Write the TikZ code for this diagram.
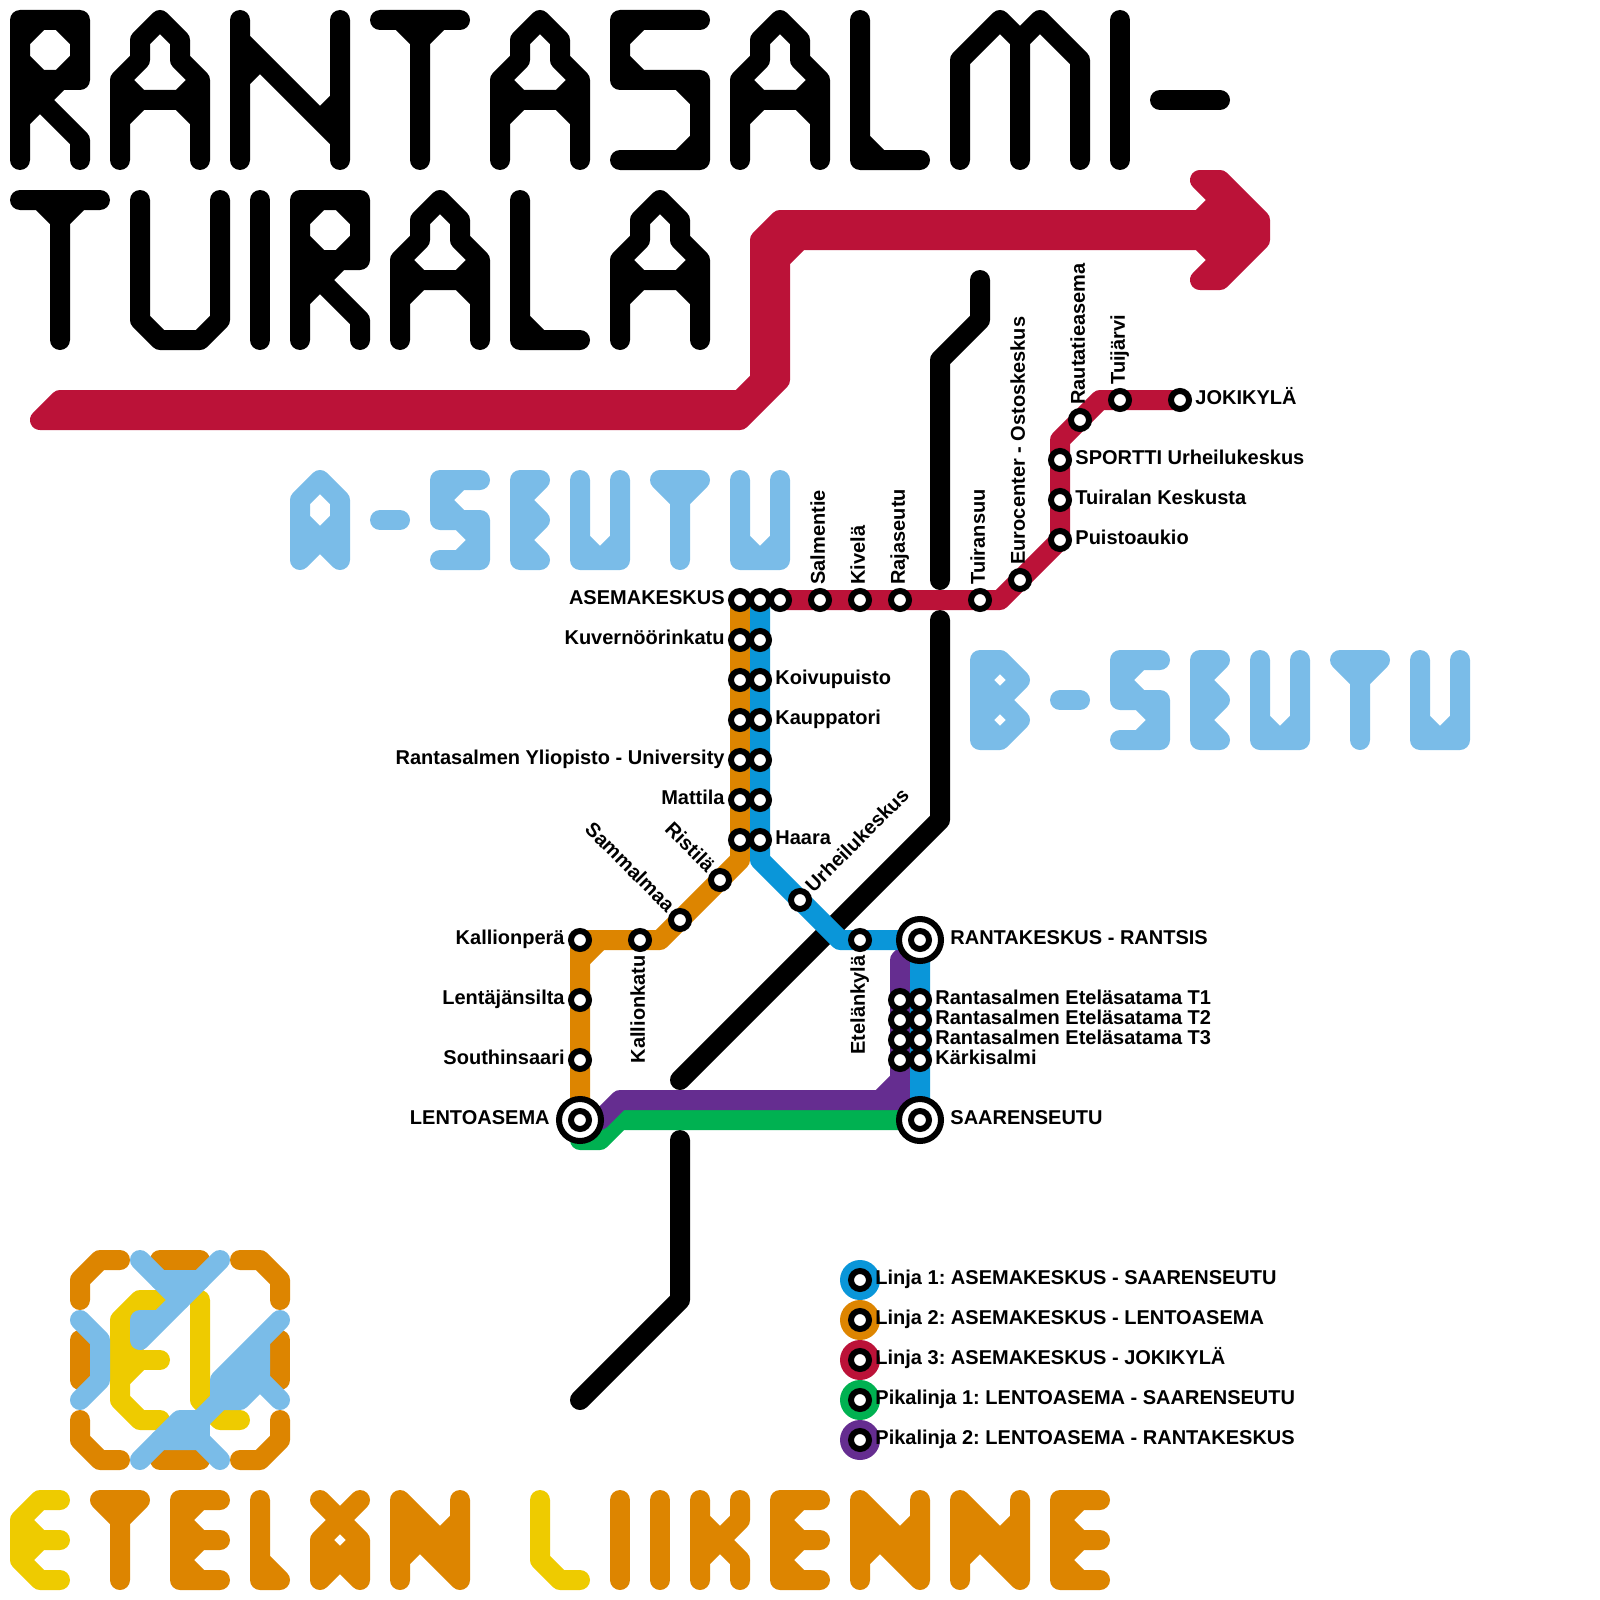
\documentclass[tikz,border=0pt]{standalone}
\usepackage{fontspec}
\setmainfont{Liberation Sans}
\usetikzlibrary{positioning,backgrounds}
\definecolor{punainen}{HTML}{BB1238}
\definecolor{oranssi}{HTML}{DD8500}
\definecolor{sininen}{HTML}{0A96D9}
\definecolor{vihrea}{HTML}{00B151}
\definecolor{violetti}{HTML}{652D90}
\definecolor{vaaleansin}{HTML}{7ABCE8}
\definecolor{keltainen}{HTML}{EECB00}
\tikzset{
  kirjainviiva/.style={
    draw=#1, line width=10pt, line cap=round, line join=round,
    x=10pt, y=-10pt
  },
  linja/.style={
    draw=#1, line width=10pt, line cap=round, line join=round
  },
  linja/.default=black,
  asema/.style={
    circle, draw=black, fill=white, line width=3pt,
    minimum size=9pt, inner sep=0pt
  },
  paateasema/.style={
    circle, draw=black, fill=white, line width=3pt,
    minimum size=21pt, inner sep=0pt
  },
  merkki/.style={
    circle, fill=#1, minimum size=20pt, inner sep=0pt
  },
  nimi/.style={
    font=\fontsize{10}{12}\selectfont\bfseries\frenchspacing, inner sep=0pt,
    text height=7.3pt, text depth=2.5pt
  },
}
% isot kirjaimet, 7 ruutua korkeat
\newcommand{\isoR}{(0,7)--(0,0)--(3,0)--(3,3)--(0,3) (0,1)--(1,0) (2,0)--(3,1) (3,2)--(2,3) (1,3)--(0,2) (0,5)--(2,3) (1,4)--(3,6)--(3,7) (0,3)--(1,4)}
\newcommand{\isoA}{(0,7)--(0,3)--(1,2)--(1,1)--(2,0)--(3,1)--(3,2)--(4,3)--(4,7) (0,3)--(1,4)--(3,4)--(4,3) (0,5)--(1,4) (3,4)--(4,5)}
\newcommand{\isoN}{(0,0)--(0,7) (5,0)--(5,7) (0,1)--(5,6) (0,3)--(1,2) (5,4)--(4,5)}
\newcommand{\isoT}{(0,0)--(4,0) (2,0)--(2,7) (1,0)--(2,1)--(3,0)}
\newcommand{\isoS}{(4,0)--(0,0)--(0,3)--(4,3)--(4,7)--(0,7) (0,1)--(1,0) (0,2)--(1,3) (3,3)--(4,4) (4,6)--(3,7)}
\newcommand{\isoL}{(0,0)--(0,7)--(3,7) (0,6)--(1,7)}
\newcommand{\isoM}{(0,7)--(0,2)--(2,0)--(3,1)--(4,0)--(6,2)--(6,7) (3,1)--(3,7)}
\newcommand{\isoI}{(0,0)--(0,7)}
\newcommand{\isoViiva}{(0,4)--(3,4)}
\newcommand{\isoU}{(0,0)--(0,6)--(1,7)--(3,7)--(4,6)--(4,0)}
% pienet kirjaimet, 4 ruutua korkeat
\newcommand{\pieniA}{(0,4)--(0,1)--(1,0)--(2,1)--(2,4) (0,2)--(1,3)--(2,2) (0,4)--(1,3)--(2,4)}
\newcommand{\pieniB}{(0,0)--(0,4)--(1,4)--(2,3)--(1,2)--(2,1)--(1,0)--(0,0) (0,2)--(1,2) (1,0)--(0,1)--(1,2)--(0,3)--(1,4)}
\newcommand{\pieniViiva}{(0,2)--(1,2)}
\newcommand{\pieniS}{(2,0)--(0,0)--(0,2)--(2,2)--(2,4)--(0,4) (1,0)--(0,1)--(1,2)--(2,3)--(1,4)}
\newcommand{\pieniE}{(1,0)--(0,0)--(0,4)--(1,4) (0,2)--(1,2) (1,0)--(0,1)--(1,2)--(0,3)--(1,4)}
\newcommand{\pieniU}{(0,0)--(0,4)--(2,4)--(2,0) (0,3)--(1,4)--(2,3)}
\newcommand{\pieniT}{(0,0)--(2,0) (1,0)--(1,4) (0,0)--(1,1)--(2,0)}
\newcommand{\alaEk}{(2,0)--(1,0)--(0,1)--(0,3)--(1,4)--(2,4) (0,2)--(2,2) (0,1)--(1,2)--(0,3)}
\newcommand{\alaE}{(2,0)--(0,0)--(0,4)--(2,4) (0,2)--(2,2) (1,0)--(0,1)--(1,2)--(0,3)--(1,4)}
\newcommand{\alaL}{(0,0)--(0,4)--(1,4) (0,3)--(1,4)}
\newcommand{\alaLk}{(0,0)--(0,3)--(1,4)--(2,4)}
\newcommand{\alaAe}{(0,0)--(1,1)--(2,0) (1,1)--(0,2)--(0,4) (1,1)--(2,2)--(2,4) (0,2)--(1,3)--(2,2) (0,4)--(1,3)--(2,4)}
\newcommand{\alaN}{(0,0)--(0,4) (3,0)--(3,4) (0,0)--(3,3) (0,1)--(3,4) (3,1)--(2,2) (0,3)--(1,2)}
\newcommand{\alaI}{(0,0)--(0,4)}
\newcommand{\alaK}{(0,0)--(0,4) (2,0)--(2,1)--(1,2)--(2,3)--(2,4) (0,1)--(1,2)--(0,3)}
\newcommand{\kirjain}[4]{\draw[shift={(#1,#2)},kirjainviiva=#3] #4;}

\begin{document}
\begin{tikzpicture}[x=0.5pt,y=-0.5pt]
  \useasboundingbox (0,0) rectangle (1600,1600);

  % otsikko
  \kirjain{20}{20}{black}{\isoR}
  \kirjain{120}{20}{black}{\isoA}
  \kirjain{240}{20}{black}{\isoN}
  \kirjain{380}{20}{black}{\isoT}
  \kirjain{500}{20}{black}{\isoA}
  \kirjain{620}{20}{black}{\isoS}
  \kirjain{740}{20}{black}{\isoA}
  \kirjain{860}{20}{black}{\isoL}
  \kirjain{960}{20}{black}{\isoM}
  \kirjain{1120}{20}{black}{\isoI}
  \kirjain{1160}{20}{black}{\isoViiva}
  \kirjain{20}{200}{black}{\isoT}
  \kirjain{140}{200}{black}{\isoU}
  \kirjain{260}{200}{black}{\isoI}
  \kirjain{300}{200}{black}{\isoR}
  \kirjain{400}{200}{black}{\isoA}
  \kirjain{520}{200}{black}{\isoL}
  \kirjain{620}{200}{black}{\isoA}

  % punainen nuoli
  \draw[draw=punainen, fill=punainen, line width=10pt, line join=round]
    (40,420) -- (60,400) -- (740,400) -- (760,380) -- (760,240) -- (780,220)
    -- (1200,220) -- (1220,200) -- (1200,180) -- (1220,180) -- (1260,220)
    -- (1260,240) -- (1220,280) -- (1200,280) -- (1220,260) -- (1200,240)
    -- (800,240) -- (780,260) -- (780,380) -- (740,420) -- cycle;

  % A-SEUTU
  \kirjain{300}{480}{vaaleansin}{\pieniA}
  \kirjain{380}{480}{vaaleansin}{\pieniViiva}
  \kirjain{440}{480}{vaaleansin}{\pieniS}
  \kirjain{520}{480}{vaaleansin}{\pieniE}
  \kirjain{580}{480}{vaaleansin}{\pieniU}
  \kirjain{660}{480}{vaaleansin}{\pieniT}
  \kirjain{740}{480}{vaaleansin}{\pieniU}

  % B-SEUTU
  \kirjain{980}{660}{vaaleansin}{\pieniB}
  \kirjain{1060}{660}{vaaleansin}{\pieniViiva}
  \kirjain{1120}{660}{vaaleansin}{\pieniS}
  \kirjain{1200}{660}{vaaleansin}{\pieniE}
  \kirjain{1260}{660}{vaaleansin}{\pieniU}
  \kirjain{1340}{660}{vaaleansin}{\pieniT}
  \kirjain{1420}{660}{vaaleansin}{\pieniU}

  % ETELAN LIIKENNE
  \kirjain{20}{1500}{keltainen}{\alaEk}
  \kirjain{100}{1500}{oranssi}{\pieniT}
  \kirjain{180}{1500}{oranssi}{\alaE}
  \kirjain{260}{1500}{oranssi}{\alaL}
  \kirjain{320}{1500}{oranssi}{\alaAe}
  \kirjain{400}{1500}{oranssi}{\alaN}
  \kirjain{540}{1500}{keltainen}{\alaLk}
  \kirjain{620}{1500}{oranssi}{\alaI}
  \kirjain{660}{1500}{oranssi}{\alaI}
  \kirjain{700}{1500}{oranssi}{\alaK}
  \kirjain{780}{1500}{oranssi}{\alaE}
  \kirjain{860}{1500}{oranssi}{\alaN}
  \kirjain{960}{1500}{oranssi}{\alaN}
  \kirjain{1060}{1500}{oranssi}{\alaE}

  % logo
  \draw[linja=oranssi] (80,1300) -- (80,1280) -- (100,1260) -- (120,1260);
  \draw[linja=oranssi] (280,1300) -- (280,1280) -- (260,1260) -- (240,1260);
  \draw[linja=oranssi] (80,1420) -- (80,1440) -- (100,1460) -- (120,1460);
  \draw[linja=oranssi] (280,1420) -- (280,1440) -- (260,1460) -- (240,1460);
  \draw[linja=oranssi] (160,1260) -- (200,1260);
  \draw[linja=oranssi] (160,1460) -- (200,1460);
  \draw[linja=oranssi] (80,1340) -- (80,1380);
  \draw[linja=oranssi] (280,1340) -- (280,1380);
  \draw[linja=keltainen] (160,1300) -- (140,1300) -- (120,1320) -- (120,1400) -- (140,1420) -- (160,1420);
  \draw[linja=keltainen] (120,1360) -- (160,1360);
  \draw[linja=keltainen] (120,1340) -- (140,1360) -- (120,1380);
  \draw[linja=keltainen] (200,1300) -- (200,1400) -- (220,1420) -- (240,1420);
  \draw[linja=vaaleansin] (80,1320) -- (100,1340) -- (100,1380) -- (80,1400);
  \draw[linja=vaaleansin] (140,1260) -- (160,1280) -- (200,1280) -- (220,1260);
  \draw[linja=vaaleansin] (160,1280) -- (180,1300);
  \draw[linja=vaaleansin] (200,1280) -- (140,1340) -- (140,1320) -- (160,1320);
  \draw[linja=vaaleansin, fill=vaaleansin] (280,1320) -- (260,1340) -- (260,1380)
    -- (240,1400) -- (220,1400) -- (220,1380) -- cycle;
  \draw[linja=vaaleansin] (260,1380) -- (280,1400);
  \draw[linja=vaaleansin] (220,1400) -- (200,1420) -- (180,1420) -- (140,1460);
  \draw[linja=vaaleansin] (160,1440) -- (200,1440) -- (220,1460);
  \draw[linja=vaaleansin] (200,1420) -- (200,1440);

  % asemat
  \node[asema] (ak2) at (740,600) {};
  \node[asema] (ak1) at (760,600) {};
  \node[asema] (ak3) at (780,600) {};
  \node[asema] (o640) at (740,640) {};
  \node[asema] (o680) at (740,680) {};
  \node[asema] (o720) at (740,720) {};
  \node[asema] (o760) at (740,760) {};
  \node[asema] (o800) at (740,800) {};
  \node[asema] (o840) at (740,840) {};
  \node[asema] (b640) at (760,640) {};
  \node[asema] (b680) at (760,680) {};
  \node[asema] (b720) at (760,720) {};
  \node[asema] (b760) at (760,760) {};
  \node[asema] (b800) at (760,800) {};
  \node[asema] (b840) at (760,840) {};
  \node[asema] (rist) at (720,880) {};
  \node[asema] (samm) at (680,920) {};
  \node[asema] (kkat) at (640,940) {};
  \node[asema] (kper) at (580,940) {};
  \node[asema] (lsil) at (580,1000) {};
  \node[asema] (sins) at (580,1060) {};
  \node[asema] (urhe) at (800,900) {};
  \node[asema] (etky) at (860,940) {};
  \node[asema] (v1) at (900,1000) {};
  \node[asema] (v2) at (900,1020) {};
  \node[asema] (v3) at (900,1040) {};
  \node[asema] (v4) at (900,1060) {};
  \node[asema] (t1) at (920,1000) {};
  \node[asema] (t2) at (920,1020) {};
  \node[asema] (t3) at (920,1040) {};
  \node[asema] (t4) at (920,1060) {};
  \node[asema] (salm) at (820,600) {};
  \node[asema] (kive) at (860,600) {};
  \node[asema] (raja) at (900,600) {};
  \node[asema] (tsuu) at (980,600) {};
  \node[asema] (euro) at (1020,580) {};
  \node[asema] (puis) at (1060,540) {};
  \node[asema] (tkes) at (1060,500) {};
  \node[asema] (spor) at (1060,460) {};
  \node[asema] (raut) at (1080,420) {};
  \node[asema] (tjar) at (1120,400) {};
  \node[asema] (joki) at (1180,400) {};
  \node[paateasema] (lento) at (580,1120) {};
  \node[asema] (lento2) at (580,1120) {};
  \node[paateasema] (ranta) at (920,940) {};
  \node[asema] (ranta2) at (920,940) {};
  \node[paateasema] (saari) at (920,1120) {};
  \node[asema] (saari2) at (920,1120) {};

  \coordinate (sk1) at (760,860);
  \coordinate (sk2) at (840,940);
  \coordinate (ok1) at (740,860);
  \coordinate (ok2) at (660,940);
  \coordinate (ok3) at (580,960);
  \coordinate (ok4) at (600,940);
  \coordinate (pk1) at (1000,600);
  \coordinate (pk2) at (1060,440);
  \coordinate (pk3) at (1100,400);
  \coordinate (vk1) at (620,1120);
  \coordinate (vk2) at (600,1140);
  \coordinate (vk3) at (580,1140);
  \coordinate (lk1) at (600,1120);
  \coordinate (lk2) at (620,1100);
  \coordinate (lk3) at (900,1100);
  \coordinate (lk4) at (880,1100);
  \coordinate (lk5) at (900,1080);
  \coordinate (lk6) at (900,960);

  \begin{scope}[on background layer]
    % mustat tiet
    \draw[linja] (980,280) -- (980,320) -- (940,360) -- (940,580);
    \draw[linja] (940,620) -- (940,820) -- (680,1080);
    \draw[linja] (680,1140) -- (680,1300) -- (580,1400);
    % linjat
    \draw[linja=vihrea] (saari.center) -- (vk1) -- (vk2) -- (vk3) -- (lento.center);
    \draw[linja=violetti] (lento.center) -- (lk1) -- (lk2) -- (lk3) -- (lk6) -- (ranta.center);
    \draw[linja=violetti] (lk4) -- (lk5);
    \draw[linja=punainen] (ak3.center) -- (pk1) -- (puis.center) -- (pk2) -- (pk3) -- (joki.center);
    \draw[linja=oranssi] (ak2.center) -- (ok1) -- (ok2) -- (kper.center) -- (lento.center);
    \draw[linja=oranssi] (ok3) -- (ok4);
    \draw[linja=sininen] (ak1.center) -- (sk1) -- (sk2) -- (ranta.center) -- (saari.center);
  \end{scope}

  % nimet vasemmalla
  \node[nimi, left=1.5pt of ak2] (nak) {ASEMAKESKUS};
  \node[nimi, left=1.5pt of o640] (nkuv) {Kuvernöörinkatu};
  \node[nimi, left=1.5pt of o760] (nyli) {Rantasalmen Yliopisto - University};
  \node[nimi, left=1.5pt of o800] (nmat) {Mattila};
  \node[nimi, left=1.5pt of kper] (nkper) {Kallionperä};
  \node[nimi, left=1.5pt of lsil] (nlsil) {Lentäjänsilta};
  \node[nimi, left=1.5pt of sins] (nsins) {Southinsaari};
  \node[nimi, left=3pt of lento] (nlento) {LENTOASEMA};

  % nimet oikealla
  \node[nimi, right=1.5pt of b680] (nkoi) {Koivupuisto};
  \node[nimi, right=1.5pt of b720] (nkau) {Kauppatori};
  \node[nimi, right=1.5pt of b840] (nhaa) {Haara};
  \node[nimi, right=3pt of ranta] (nranta) {RANTAKESKUS - RANTSIS};
  \node[nimi, right=1.5pt of t1] (nt1) {Rantasalmen Eteläsatama T1};
  \node[nimi, right=1.5pt of t2] (nt2) {Rantasalmen Eteläsatama T2};
  \node[nimi, right=1.5pt of t3] (nt3) {Rantasalmen Eteläsatama T3};
  \node[nimi, right=1.5pt of t4] (nt4) {Kärkisalmi};
  \node[nimi, right=3pt of saari] (nsaari) {SAARENSEUTU};
  \node[nimi, right=1.5pt of puis] (npuis) {Puistoaukio};
  \node[nimi, right=1.5pt of tkes] (ntkes) {Tuiralan Keskusta};
  \node[nimi, right=1.5pt of spor] (nspor) {SPORTTI Urheilukeskus};
  \node[nimi, right=1.5pt of joki] (njoki) {JOKIKYLÄ};

  % nimet pystyssa ja vinossa
  \node[nimi, above=1.5pt of salm, anchor=west, rotate=90] (nsalm) {Salmentie};
  \node[nimi, above=1.5pt of kive, anchor=west, rotate=90] (nkive) {Kivelä};
  \node[nimi, above=1.5pt of raja, anchor=west, rotate=90] (nraja) {Rajaseutu};
  \node[nimi, above=1.5pt of tsuu, anchor=west, rotate=90] (ntsuu) {Tuiransuu};
  \node[nimi, above=1.5pt of euro, anchor=west, rotate=90] (neuro) {Eurocenter - Ostoskeskus};
  \node[nimi, above=1.5pt of raut, anchor=west, rotate=90] (nraut) {Rautatieasema};
  \node[nimi, above=1.5pt of tjar, anchor=west, rotate=90] (ntjar) {Tuijärvi};
  \node[nimi, below=1.5pt of kkat, anchor=east, rotate=90] (nkkat) {Kallionkatu};
  \node[nimi, below=1.5pt of etky, anchor=east, rotate=90] (netky) {Etelänkylä};
  \node[nimi, above right=1pt of urhe, anchor=west, rotate=45] (nurhe) {Urheilukeskus};
  \node[nimi, above left=1pt of rist, anchor=east, rotate=-45] (nrist) {Ristilä};
  \node[nimi, above left=1pt of samm, anchor=east, rotate=-45] (nsamm) {Sammalmaa};

  % selite
  \node[merkki=sininen] (m1) at (860,1280) {};
  \node[merkki=oranssi] (m2) at (860,1320) {};
  \node[merkki=punainen] (m3) at (860,1360) {};
  \node[merkki=vihrea] (m4) at (860,1400) {};
  \node[merkki=violetti] (m5) at (860,1440) {};
  \node[asema] (s1) at (m1) {};
  \node[asema] (s2) at (m2) {};
  \node[asema] (s3) at (m3) {};
  \node[asema] (s4) at (m4) {};
  \node[asema] (s5) at (m5) {};
  \node[nimi, right=1.5pt of s1] (n1) {Linja 1: ASEMAKESKUS - SAARENSEUTU};
  \node[nimi, right=1.5pt of s2] (n2) {Linja 2: ASEMAKESKUS - LENTOASEMA};
  \node[nimi, right=1.5pt of s3] (n3) {Linja 3: ASEMAKESKUS - JOKIKYLÄ};
  \node[nimi, right=1.5pt of s4] (n4) {Pikalinja 1: LENTOASEMA - SAARENSEUTU};
  \node[nimi, right=1.5pt of s5] (n5) {Pikalinja 2: LENTOASEMA - RANTAKESKUS};
\end{tikzpicture}
\end{document}
